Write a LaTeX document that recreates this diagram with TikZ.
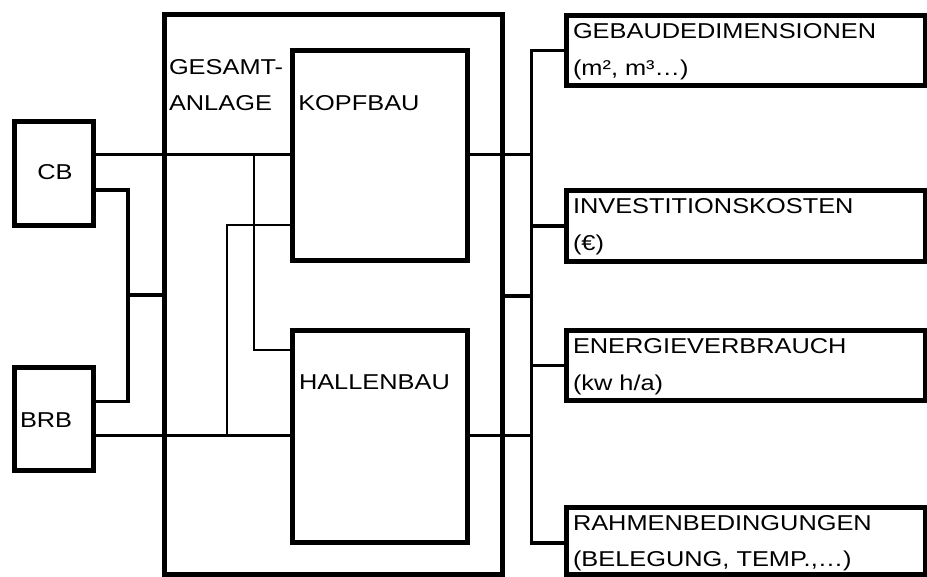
\documentclass[tikz,border=0pt]{standalone}
\usepackage{fontspec}
\setmainfont{Liberation Sans}
\usepackage{graphicx}
\newcommand\wtxt[1]{\scalebox{1.18}[1]{#1}}
\begin{document}
\begin{tikzpicture}[x=1pt,y=-1pt,
  box/.style={draw=black, line width=5pt, rectangle, inner sep=0pt, outer sep=0pt},
  conn/.style={line width=3.5pt},
  thinconn/.style={line width=2pt},
  busline/.style={line width=3pt, line cap=rect},
  txt/.style={anchor=base west, inner sep=0pt, outer sep=0pt, font=\fontsize{21.5pt}{26pt}\selectfont, text=black}]
\useasboundingbox (0,0) rectangle (927,577);
% boxes
\node[box, minimum width=79pt, minimum height=104pt] (cb) at (54,173.5) {};
\node[box, minimum width=79pt, minimum height=102.5pt] (brb) at (54,418.75) {};
\node[box, minimum width=338pt, minimum height=559.5pt] (ges) at (333.5,294.25) {};
\node[box, minimum width=175pt, minimum height=210.5pt] (kopf) at (380,155.75) {};
\node[box, minimum width=175pt, minimum height=212pt] (hall) at (380,436.5) {};
\node[box, minimum width=358.5pt, minimum height=70pt] (geb) at (745.75,50.5) {};
\node[box, minimum width=358.5pt, minimum height=71pt] (inv) at (745.75,226) {};
\node[box, minimum width=358.5pt, minimum height=70pt] (ene) at (745.75,365.5) {};
\node[box, minimum width=358.5pt, minimum height=67pt] (rah) at (745.75,541) {};
% texts
\node[txt] (tcb) at (37.3,180) {\wtxt{CB}};
\node[txt] (tbrb) at (20,428) {\wtxt{BRB}};
\node[txt] (tges1) at (169,75) {\wtxt{GESAMT-}};
\node[txt] (tges2) at (169,110.7) {\wtxt{ANLAGE}};
\node[txt] (tkopf) at (298.3,111) {\wtxt{KOPFBAU}};
\node[txt] (thall) at (299,390) {\wtxt{HALLENBAU}};
\node[txt] (tgeb1) at (573,38.2) {\wtxt{GEBAUDEDIMENSIONEN}};
\node[txt] (tgeb2) at (573,75.2) {\wtxt{(m², m³…)}};
\node[txt] (tinv1) at (573,213.2) {\wtxt{INVESTITIONSKOSTEN}};
\node[txt] (tinv2) at (573,250.2) {\wtxt{(€)}};
\node[txt] (tene1) at (573,353.2) {\wtxt{ENERGIEVERBRAUCH}};
\node[txt] (tene2) at (573,390.2) {\wtxt{(kw h/a)}};
\node[txt] (trah1) at (573,530.2) {\wtxt{RAHMENBEDINGUNGEN}};
\node[txt] (trah2) at (573,566.5) {\wtxt{(BELEGUNG, TEMP.,…)}};
% helper coordinates
\coordinate (j1) at (254,154.5);
\coordinate (h1) at (254,350);
\coordinate (k2) at (227,225);
\coordinate (b2) at (227,435.5);
\coordinate (c1) at (128,190);
\coordinate (c2) at (128,401.7);
\coordinate (c3) at (128,295);
\coordinate (r1) at (531,296);
\coordinate (bustop) at (531,50.5);
\coordinate (busbot) at (531,543);
% connectors
\draw[conn] (cb.east |- j1) -- (kopf.west |- j1);
\draw[conn] (kopf.east |- j1) -- (bustop |- j1);
\draw[thinconn] (j1) -- (h1) -- (hall.west |- h1);
\draw[thinconn] (kopf.west |- k2) -- (k2) -- (b2);
\draw[conn] (brb.east |- b2) -- (hall.west |- b2);
\draw[conn] (hall.east |- b2) -- (bustop |- b2);
\draw[conn] (cb.east |- c1) -- (c1) -- (c2) -- (brb.east |- c2);
\draw[conn] (c3) -- (ges.west |- c3);
\draw[conn] (ges.east |- r1) -- (r1);
\draw[busline] (bustop) -- (busbot);
\draw[conn] (bustop) -- (geb.west);
\draw[conn] (bustop |- inv.west) -- (inv.west);
\draw[conn] (bustop |- ene.west) -- (ene.west);
\draw[conn] (busbot) -- (rah.west |- busbot);
\end{tikzpicture}
\end{document}
